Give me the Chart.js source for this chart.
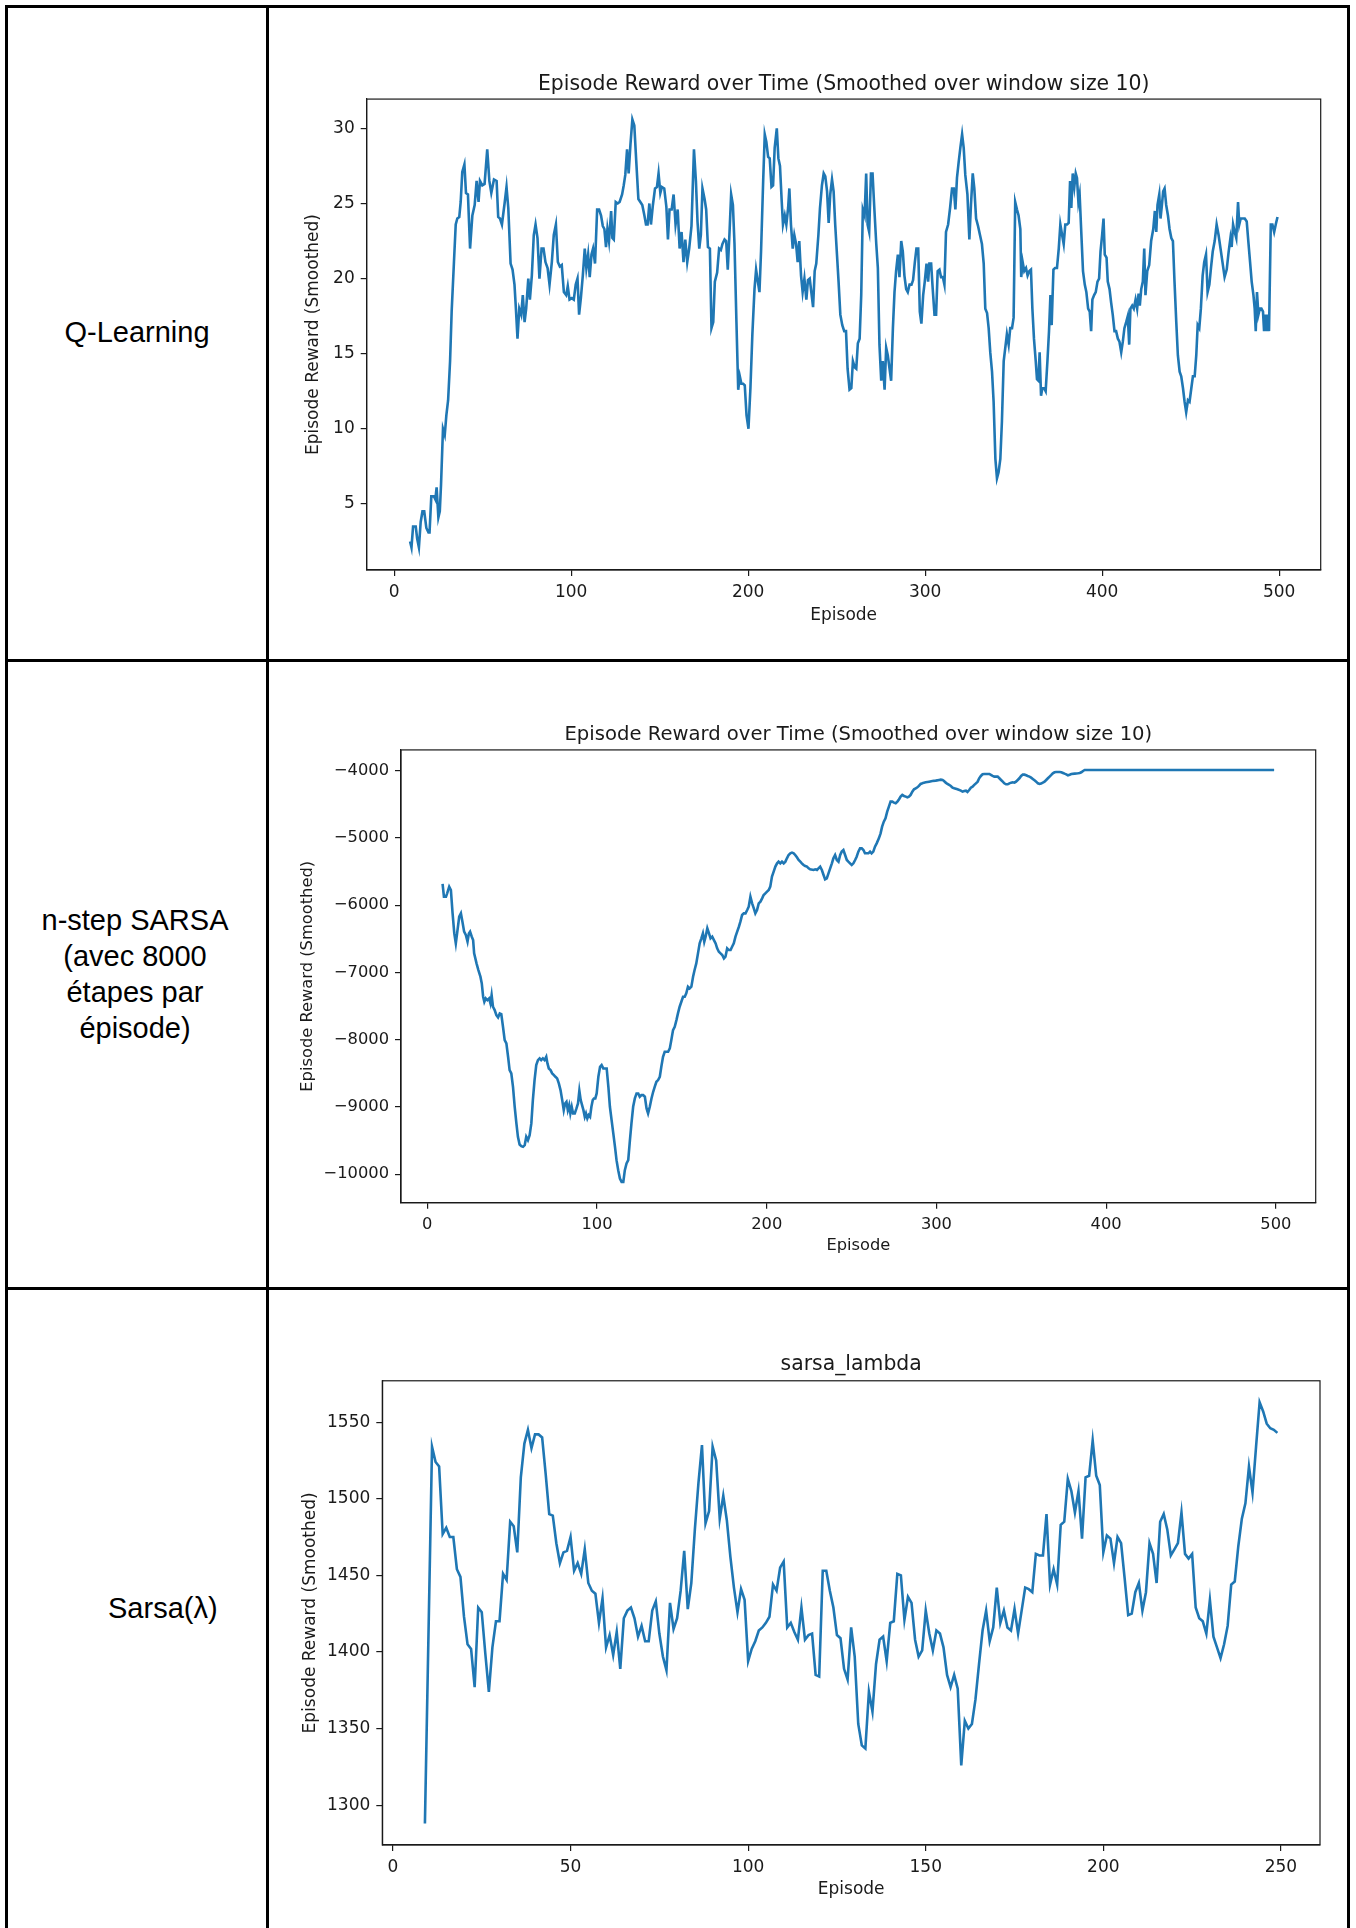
<!DOCTYPE html>
<html>
<head>
<meta charset="utf-8">
<script src="https://cdn.jsdelivr.net/npm/chart.js@4.4.1/dist/chart.umd.min.js"></script>
<style>
  html, body { margin: 0; padding: 0; background: #fff; }
  body { width: 1356px; height: 1928px; position: relative; overflow: hidden; }
  .rule { position: absolute; background: #000; }
  .label { position: absolute; font-family: "Liberation Sans", Arial, sans-serif; font-size: 29px; color: #000; line-height: 36px; text-align: center; }
  canvas { position: absolute; }
</style>
</head>
<body>
<!-- table rules -->
<div class="rule" style="left:5px;top:5px;width:3px;height:1923px"></div>
<div class="rule" style="left:266px;top:5px;width:3px;height:1923px"></div>
<div class="rule" style="left:1347px;top:5px;width:3px;height:1923px"></div>
<div class="rule" style="left:5px;top:5px;width:1345px;height:3px"></div>
<div class="rule" style="left:5px;top:659px;width:1345px;height:3px"></div>
<div class="rule" style="left:5px;top:1287px;width:1345px;height:3px"></div>

<div class="label" style="left:8px;width:258px;top:314px">Q-Learning</div>
<div class="label" style="left:8px;width:254px;top:902px">n-step SARSA<br>(avec 8000<br>étapes par<br>épisode)</div>
<div class="label" style="left:108px;top:1590px;text-align:left">Sarsa(λ)</div>

<canvas id="qChart" width="1076" height="648" style="left:270px;top:9px"></canvas>
<canvas id="nstepChart" width="1076" height="622" style="left:270px;top:663px"></canvas>
<canvas id="lambdaChart" width="1076" height="637" style="left:270px;top:1291px"></canvas>

<script>
// Q-Learning: smoothed episode reward
const qEpisodes = [9,9.8,10.7,12.2,13,14,15,16,17,18.2,19.4,20,21,22.5,23.3,24,25,25.8,26.5,27.6,28.6,29.5,30.5,31.6,32.5,33.8,34.8,35.7,36.8,37.6,38.5,39.7,40.6,41.7,42.9,44.2,45.5,46.6,47.7,48.5,49.8,51.1,52.6,53.8,54.9,56.4,57.9,58.8,59.8,60.9,62.4,63.5,64.5,65.8,66.9,68,68.8,69.7,70.7,71.8,72.7,73.7,74.6,75.8,76.7,77.8,78.9,79.9,81,82.1,83.3,84.4,85.5,86.7,87.8,89.1,90.2,91.4,92.5,93.6,94.7,95.9,97.2,98.1,99.1,100.4,101.5,102.6,103.6,104.5,105.5,106.6,107.7,108.6,109.6,110.5,111.5,112.4,113.5,114.7,115.8,116.9,117.9,118.8,119.7,120.5,121.4,122.6,123.3,124.1,125.2,126.3,127.4,128.8,129.7,130.6,131.6,132.5,133.5,134.6,135.7,136.8,138,139.1,140.2,141.4,142.3,143.2,144.2,145.1,146.2,147.4,148.5,149.4,150.4,151.3,152.6,153.8,154.7,155.6,156.8,157.9,159,160.2,161.3,162.4,163.5,164.5,165.6,166.7,168,169.4,170.5,171.4,172.4,173.3,174.2,175.4,176.3,177.3,178.4,179.3,180.3,181.2,182.5,183.6,184.6,185.5,186.7,187.6,188.5,189.5,190.4,191.4,192.3,193.4,194.4,195.3,196.2,197.2,198.1,199.1,200.2,201.3,202.4,203.6,204.5,205.5,206.4,207.3,208.5,209.4,210.3,211.3,212.2,213.2,214.1,215,216.2,217.1,218,219,219.7,220.7,221.6,222.6,223.3,224.2,225.2,226.1,227.1,228,228.9,229.9,230.8,231.8,232.9,233.8,234.8,235.7,236.7,237.6,238.5,239.7,240.6,241.7,242.7,243.6,244.6,245.5,246.4,247.4,248.3,249.2,250.2,251.1,252.1,253.2,254.3,255.3,256.2,257.3,258.3,259.2,260.2,261.1,262,263,263.9,264.8,265.8,266.7,267.5,268.4,269.4,270.3,271.2,272.4,273.3,274.2,275.2,276.1,277.1,278,278.9,279.9,280.8,281.8,282.7,283.6,284.6,285.5,286.5,287.4,288.3,289.3,290.2,291.2,292.3,293.2,294.2,295.1,296.1,297,297.9,298.9,299.8,300.8,301.7,302.4,303.4,304.3,305.3,306.2,307.1,308.1,309,310,310.9,311.8,313,314.1,315.2,316.2,317.1,318,319,319.9,320.9,321.8,322.7,323.9,325,325.9,326.9,327.8,328.8,329.9,331,332.1,333.1,334,335,335.9,336.8,337.8,338.7,339.7,340.6,341.5,342.5,343.4,344.4,345.3,346.2,347.2,348.1,349.1,350,350.9,351.9,352.8,353.8,354.3,355.1,356,357,357.9,358.9,359.8,360.6,361.5,362.5,363.2,364,364.7,365.5,366.2,367.2,368.1,369.1,370,370.8,371.5,372.5,373.4,374.5,375.5,376.4,377.4,378.3,379.2,380.2,381.1,381.9,382.6,383.4,384.3,385.1,385.8,386.6,387.3,388.3,389.2,390.2,391.1,392.1,393,393.8,394.5,395.5,396.4,397.4,398.3,399.1,400,400.8,401.5,402.5,403.2,404.2,405.1,406,407,407.9,408.9,409.8,410.8,411.7,412.6,413.6,414.5,415.3,416,417,417.9,418.9,419.8,420.6,421.3,422.1,423,423.8,424.5,425.5,426.6,427.7,428.9,429.8,430.6,431.3,432.3,433,433.8,434.5,435.3,436.2,437.2,438.1,439.1,440,440.9,441.9,442.8,443.8,444.7,445.7,446.6,447.5,448.5,449.4,450.4,451.3,452.3,453.2,454,454.9,455.8,456.8,457.7,458.7,459.6,460.6,461.5,462.5,463.6,464.7,465.8,466.9,468,469.2,470.4,471.5,472.5,473.2,474,474.9,475.8,476.8,477.5,478.3,479.4,480.6,481.7,482.6,483.6,484.5,485.5,486.2,486.8,487.5,488.3,489.1,490,490.9,491.5,492.3,493,493.6,494.3,495.3,496.2,497.2,498.1,499.1];
const qRewards = [2.5,2.1,3.5,3.5,2.7,2.1,3.8,4.5,4.5,3.4,3.1,3.1,5.5,5.5,5.3,6.1,4.1,4.5,6.3,10.0,9.6,10.9,11.9,14.5,17.8,21.1,23.6,24.0,24.1,25.1,27.1,27.6,25.7,25.6,22.0,24.2,24.9,26.5,25.1,26.5,26.2,26.3,28.6,26.5,25.7,26.6,26.5,24.1,24.0,23.6,25.0,26.1,24.7,21.0,20.6,19.6,18.0,16.0,18.0,17.6,18.9,17.1,18.0,20.0,18.6,20.2,22.9,23.6,22.7,20.0,22.0,22.0,21.1,20.7,19.6,21.1,22.9,23.6,21.1,20.8,20.9,19.1,18.9,19.5,18.6,18.7,18.6,19.6,20.0,17.6,18.7,20.2,22.0,20.7,21.6,20.1,21.6,22.0,21.0,24.6,24.6,24.2,23.5,23.3,22.1,23.3,22.5,24.5,22.7,22.6,25.1,25.0,25.1,25.6,26.2,26.9,28.6,27.0,28.9,30.6,30.2,27.8,25.3,25.1,24.9,24.2,23.6,23.6,25.0,23.6,24.9,26.0,26.1,27.0,25.7,26.1,26.0,24.8,22.6,24.6,24.6,25.6,23.6,24.6,22.0,23.1,21.1,22.6,21.1,22.0,23.5,28.6,26.5,23.8,22.0,22.9,26.0,25.3,24.6,22.1,22.0,16.7,17.1,19.8,20.4,22.0,21.9,22.3,22.6,22.5,20.6,23.1,25.6,24.9,22.3,17.1,12.6,13.5,13.0,13.0,12.9,10.9,10.0,12.7,16.3,19.3,20.6,19.8,19.1,21.8,26.5,29.6,29.1,28.1,28.0,26.1,26.2,28.7,30.0,28.0,27.5,25.1,23.6,24.2,23.6,24.7,26.0,23.6,22.0,22.9,22.3,21.1,22.5,20.2,19.1,20.0,18.6,19.9,20.0,19.1,18.1,20.5,21.0,22.9,24.7,26.2,27.0,26.8,25.8,23.7,25.6,26.6,25.8,23.6,21.6,19.8,17.6,16.9,16.5,16.5,14.0,12.6,12.7,14.5,14.1,14.0,15.7,16.0,18.9,24.6,24.2,27.0,23.6,23.1,27.0,27.0,24.9,22.3,20.7,15.6,13.2,14.5,12.6,15.4,14.9,14.0,13.2,16.7,19.1,20.5,21.6,20.1,22.5,21.8,20.2,19.3,19.1,19.6,19.6,19.9,21.1,22.0,22.0,17.8,17.0,18.9,19.8,21.0,19.8,21.0,21.0,19.3,17.6,17.6,20.5,20.6,20.1,20.1,19.6,23.1,23.6,24.7,26.0,26.0,24.6,26.7,27.8,28.7,29.6,28.7,26.9,25.6,22.6,24.9,27.0,26.0,24.0,23.5,22.9,22.3,21.0,18.0,17.7,16.7,15.1,13.8,11.8,8.0,6.7,7.1,8.0,10.5,14.5,15.4,16.3,15.6,16.7,16.7,17.4,25.1,24.6,24.2,23.3,20.1,21.1,20.5,20.7,20.2,20.5,20.6,18.0,16.0,14.5,13.3,13.2,15.1,12.2,12.7,12.7,12.5,14.5,16.5,18.9,16.9,20.6,20.7,20.7,22.0,23.6,22.9,22.3,23.6,23.6,23.7,26.5,24.7,27.0,26.1,27.0,26.7,25.1,25.6,22.9,20.5,19.6,19.1,18.0,17.8,16.5,18.6,18.9,19.1,19.8,20.0,21.8,22.9,24.0,21.6,21.4,19.8,19.3,18.4,17.6,16.5,16.5,16.0,15.8,15.1,15.8,16.7,17.1,17.5,15.6,18.0,18.2,18.0,18.6,18.0,19.0,18.2,19.3,19.8,22.0,18.9,20.5,20.9,22.5,23.3,24.5,23.1,24.9,25.6,24.0,24.9,25.8,26.0,24.9,24.2,23.3,22.7,22.5,19.8,17.1,14.9,13.8,13.5,12.7,11.8,11.1,11.9,11.8,12.7,13.5,13.5,14.9,16.9,16.7,18.0,20.2,21.1,21.6,19.1,19.6,20.7,21.8,22.5,23.6,22.9,22.0,21.1,20.1,20.6,21.8,22.7,22.1,23.6,23.1,22.7,25.1,23.6,24.0,24.0,24.0,23.8,22.5,21.1,19.8,18.9,18.0,16.5,19.1,17.6,18.0,18.0,17.8,16.5,17.6,16.5,17.6,16.5,23.6,23.6,23.1,23.6,24.1];

// n-step SARSA (8000 steps per episode)
const nstepEpisodes = [9,9.8,11,11.7,12.9,13.9,14.9,15.9,16.8,17.8,18.8,19.8,20.7,21.7,22.7,23.7,24.5,25.2,26.2,27,27.6,29,30.1,31.3,32.1,32.9,33.6,34.4,35.4,36.4,37.2,37.9,38.7,39.7,40.7,41.7,42.7,43.6,44.6,45.6,46.6,47.6,48.5,49.5,50.5,51.5,52.5,53.4,54.4,55.4,56.4,57.4,58.3,59.3,60.3,61.3,62.2,63.2,64.2,65.2,66.2,67.1,68.1,69.1,70.1,70.8,71.6,72.6,73.6,74.6,75.5,76.5,77.5,78.5,79.5,80.4,81.2,82,82.8,83.6,84.3,85.1,85.9,86.9,87.9,88.8,89.6,90.4,91.2,92,92.8,93.5,94.3,95.1,95.9,96.7,97.5,98.2,99,99.8,100.8,101.8,102.7,103.7,104.7,105.7,106.7,107.6,108.6,109.6,110.6,111.5,112.5,113.5,114.5,115.5,116.4,117.4,118.4,119.4,120.3,121.3,122.3,123.3,124.3,125.2,126.2,127.2,128.2,129.2,130.1,131.1,132.1,133.1,134,135,136,137,137.9,138.9,139.9,141.9,142.9,143.8,144.8,145.8,146.8,147.7,148.7,149.7,150.7,151.7,152.6,153.6,154.6,155.6,156.6,157.5,158.5,159.5,160.5,161.5,162.4,163.2,164,165,166,166.9,167.9,168.9,169.9,170.8,171.8,172.8,173.8,174.8,175.7,176.7,177.7,178.7,179.6,180.6,181.6,182.6,183.6,184.5,185.5,186.5,187.5,188.5,189.4,190.4,191.4,192.4,193.3,194.3,195.3,196.3,197.3,198.2,199.2,200.2,201.2,202.1,203.1,204.1,205.1,206.1,207,208,209,210,211,211.9,212.9,213.9,214.9,215.9,216.8,217.8,218.8,219.8,220.7,221.7,222.7,223.7,224.7,225.6,227.6,228.6,229.6,230.5,231.5,232.5,233.5,234.4,235.4,236.4,237.4,238.4,239.3,240.3,241.3,242.3,243.3,244.2,245.2,246.2,247.2,248.1,249.1,250.1,251.1,252.1,253,254,255,256,257,257.9,258.9,259.9,260.9,261.8,262.8,263.8,264.8,266.1,267.1,268,269,270,271,272,273,274,275,276,277,278,278.9,279.9,280.9,281.9,282.9,283.8,284.8,285.8,286.8,287.8,288.8,289.7,290.7,291.7,292.7,293.7,295.7,297.6,299.6,301.6,302.6,303.6,304.5,305.5,306.5,307.5,308.5,309.5,310.5,312.4,314.4,315.4,316.4,317.4,318.3,319.3,320.3,321.3,322.3,323.3,324.3,325.2,326.2,327.2,328.2,331.2,332.1,333.1,334.1,336.1,337.1,338.1,339.1,340,341,342,343,344,345,346,346.9,347.9,348.9,349.9,350.9,351.9,352.9,353.8,354.8,355.8,356.8,357.8,358.8,359.8,360.8,361.7,362.7,363.7,364.7,365.7,366.7,367.7,368.6,369.6,370.6,372.6,373.6,374.6,375.5,376.5,377.5,378.5,379.5,381.5,383.4,384.4,385.4,386.4,387.4,499];
const nstepRewards = [-5684,-5873,-5873,-5823,-5724,-5774,-6121,-6419,-6568,-6370,-6171,-6121,-6245,-6394,-6443,-6543,-6419,-6394,-6468,-6518,-6716,-6865,-6964,-7063,-7163,-7361,-7436,-7386,-7411,-7386,-7460,-7336,-7510,-7560,-7634,-7669,-7609,-7619,-7808,-8006,-8056,-8254,-8452,-8502,-8701,-8998,-9246,-9445,-9559,-9584,-9594,-9569,-9445,-9495,-9420,-9246,-8899,-8601,-8378,-8304,-8279,-8304,-8279,-8304,-8254,-8353,-8428,-8452,-8502,-8527,-8552,-8576,-8651,-8750,-8899,-9048,-8949,-8924,-9048,-8974,-9097,-8998,-9097,-9097,-9023,-8949,-8760,-8899,-8974,-9048,-9147,-9097,-9172,-9122,-9147,-8998,-8899,-8874,-8874,-8800,-8552,-8403,-8378,-8428,-8428,-8428,-8701,-8998,-9197,-9395,-9594,-9792,-9941,-10065,-10115,-10115,-9941,-9842,-9792,-9495,-9246,-8998,-8874,-8800,-8800,-8849,-8825,-8825,-8849,-9023,-9097,-8998,-8874,-8775,-8701,-8626,-8601,-8552,-8403,-8254,-8180,-8180,-8130,-8006,-7857,-7808,-7709,-7609,-7510,-7436,-7361,-7361,-7311,-7212,-7237,-7212,-7063,-6964,-6865,-6716,-6568,-6493,-6419,-6543,-6468,-6344,-6419,-6493,-6468,-6518,-6568,-6642,-6692,-6716,-6741,-6791,-6766,-6642,-6667,-6667,-6617,-6568,-6468,-6394,-6320,-6245,-6146,-6121,-6121,-6071,-6022,-5873,-5972,-6047,-6121,-6071,-5972,-5947,-5898,-5848,-5823,-5798,-5774,-5724,-5575,-5501,-5426,-5377,-5352,-5377,-5352,-5377,-5352,-5302,-5253,-5228,-5218,-5228,-5253,-5288,-5327,-5352,-5377,-5402,-5416,-5426,-5451,-5466,-5476,-5466,-5476,-5451,-5426,-5476,-5550,-5615,-5600,-5526,-5451,-5377,-5302,-5253,-5327,-5352,-5253,-5203,-5179,-5253,-5327,-5352,-5377,-5402,-5377,-5327,-5278,-5203,-5154,-5154,-5179,-5228,-5228,-5228,-5203,-5228,-5203,-5129,-5080,-5005,-4931,-4831,-4757,-4707,-4608,-4533,-4459,-4459,-4474,-4484,-4459,-4424,-4385,-4360,-4375,-4385,-4395,-4385,-4360,-4311,-4276,-4261,-4246,-4226,-4196,-4187,-4177,-4172,-4162,-4152,-4147,-4137,-4132,-4137,-4152,-4177,-4196,-4211,-4226,-4251,-4261,-4276,-4296,-4311,-4301,-4296,-4316,-4286,-4251,-4236,-4211,-4187,-4162,-4112,-4077,-4053,-4048,-4048,-4062,-4077,-4087,-4087,-4112,-4137,-4162,-4187,-4201,-4201,-4187,-4177,-4172,-4177,-4162,-4137,-4112,-4077,-4058,-4058,-4067,-4077,-4087,-4102,-4122,-4142,-4162,-4187,-4196,-4191,-4177,-4162,-4137,-4112,-4087,-4062,-4038,-4023,-4018,-4018,-4023,-4033,-4043,-4053,-4067,-4058,-4048,-4043,-4038,-4033,-4023,-4003,-3988,-3988];

// Sarsa(lambda)
const lambdaEpisodes = [9,11,12,13,14,15,16,17,18,19,20,21,22,23,24,25,26,27,28,29,30,31,32,33,34,35,36,37,38,39,40,41,42,43,44,45,46,47,48,49,50,51,52,53,54,55,56,57,58,59,60,61,62,63,64,65,66,67,68,69,70,71,72,73,74,75,76,77,78,79,80,81,82,83,84,85,86,87,88,89,90,91,92,93,94,95,96,97,98,99,100,101,102,103,104,105,106,107,108,109,110,111,112,113,114,115,116,117,118,119,120,121,122,123,124,125,126,127,128,129,130,131,132,133,134,135,136,137,138,139,140,141,142,143,144,145,146,147,148,149,150,151,152,153,154,155,156,157,158,159,160,161,162,163,164,165,166,167,168,169,170,171,172,173,174,175,176,177,178,179,180,181,182,183,184,185,186,187,188,189,190,191,192,193,194,195,196,197,198,199,200,201,202,203,204,205,206,207,208,209,210,211,212,213,214,215,216,217,218,219,220,221,222,223,224,225,226,227,228,229,230,231,232,233,234,235,236,237,238,239,240,241,242,243,244,245,246,247,248,249];
const lambdaRewards = [1288,1534,1524,1521,1477,1481,1475,1475,1454,1449,1423,1405,1402,1377,1429,1426,1399,1374,1403,1420,1420,1451,1447,1485,1482,1465,1514,1536,1545,1533,1542,1542,1540,1516,1490,1489,1471,1458,1465,1466,1475,1453,1458,1451,1467,1445,1440,1438,1419,1435,1403,1411,1398,1413,1389,1422,1427,1429,1422,1410,1417,1407,1407,1427,1433,1412,1397,1388,1432,1415,1422,1440,1466,1428,1445,1480,1510,1535,1484,1492,1534,1525,1487,1502,1486,1462,1442,1426,1441,1434,1394,1402,1407,1414,1416,1419,1423,1444,1440,1455,1459,1416,1419,1413,1408,1429,1408,1411,1412,1385,1384,1453,1453,1440,1429,1411,1409,1389,1382,1416,1397,1353,1339,1337,1374,1361,1392,1408,1410,1394,1419,1420,1451,1450,1421,1436,1432,1408,1397,1401,1427,1412,1401,1414,1412,1403,1385,1377,1385,1376,1326,1355,1350,1353,1369,1392,1414,1427,1407,1416,1442,1419,1427,1416,1414,1428,1412,1427,1442,1441,1439,1464,1463,1463,1490,1444,1454,1444,1483,1485,1513,1505,1491,1505,1474,1514,1515,1538,1515,1509,1465,1476,1474,1458,1475,1471,1448,1424,1425,1439,1445,1427,1439,1471,1464,1445,1485,1490,1480,1463,1467,1471,1491,1464,1461,1464,1429,1422,1420,1412,1434,1410,1403,1396,1405,1417,1444,1446,1469,1487,1497,1521,1504,1534,1563,1557,1549,1546,1545,1543];

const episodeTicks500 = [0, 100, 200, 300, 400, 500];
const episodeTicks250 = [0, 50, 100, 150, 200, 250];
const qTicks = [5, 10, 15, 20, 25, 30];
const nstepTicks = [-10000, -9000, -8000, -7000, -6000, -5000, -4000];
const lambdaTicks = [1300, 1350, 1400, 1450, 1500, 1550];

const FONT = '"DejaVu Sans", sans-serif';
const INK = '#1a1a1a';
const LINE = '#1f77b4';

// matplotlib-like box around the axes
const frame = {
  id: 'frame',
  afterDatasetsDraw(chart) {
    const { ctx, chartArea: a } = chart;
    ctx.save();
    ctx.strokeStyle = INK;
    ctx.lineWidth = 1.2;
    ctx.strokeRect(a.left, a.top, a.right - a.left, a.bottom - a.top);
    ctx.restore();
  }
};

const minus = v => (v < 0 ? '\u2212' + Math.abs(v) : String(v));

function lineChart(id, o) {
  const axisStyle = {
    grid: { drawOnChartArea: false, drawTicks: true, tickLength: 6, color: INK, lineWidth: 1.2 },
    border: { display: true, color: INK, width: 1.2 },
  };
  return new Chart(document.getElementById(id), {
    type: 'line',
    data: {
      datasets: [{
        data: o.xs.map((x, i) => ({ x, y: o.ys[i] })),
        borderColor: LINE,
        borderWidth: 2.6,
        pointRadius: 0,
        tension: 0,
        fill: false
      }]
    },
    options: {
      responsive: false,
      animation: false,
      devicePixelRatio: 1,
      layout: { padding: { left: 0, top: 0, right: o.padRight, bottom: o.padBottom } },
      plugins: {
        legend: { display: false },
        tooltip: { enabled: false },
        title: {
          display: true,
          text: o.title,
          fullSize: false,
          color: INK,
          font: { family: FONT, size: o.titleSize, weight: 'normal', lineHeight: 1.2 },
          padding: { top: o.titleTop, bottom: o.titleBottom }
        }
      },
      scales: {
        x: {
          type: 'linear',
          min: o.xMin,
          max: o.xMax,
          ...axisStyle,
          afterFit: s => { s.height = o.xHeight; },
          afterBuildTicks: s => { s.ticks = o.xTicks.map(v => ({ value: v })); },
          ticks: { autoSkip: false, maxRotation: 0, padding: 6, color: INK, font: { family: FONT, size: o.tickSize } },
          title: { display: true, text: 'Episode', color: INK, font: { family: FONT, size: o.tickSize, lineHeight: 1.2 }, padding: { top: 0, bottom: 0 } }
        },
        y: {
          type: 'linear',
          min: o.yMin,
          max: o.yMax,
          ...axisStyle,
          afterFit: s => { s.width = o.yWidth; },
          afterBuildTicks: s => { s.ticks = o.yTicks.map(v => ({ value: v })); },
          ticks: { autoSkip: false, padding: 6, color: INK, font: { family: FONT, size: o.tickSize }, callback: o.fmt || (v => String(v)) },
          title: { display: true, text: 'Episode Reward (Smoothed)', color: INK, font: { family: FONT, size: o.tickSize, lineHeight: 1.2 }, padding: { top: o.yTitlePad, bottom: 0 } }
        }
      }
    },
    plugins: [frame]
  });
}

lineChart('qChart', {
  xs: qEpisodes, ys: qRewards,
  title: 'Episode Reward over Time (Smoothed over window size 10)',
  xMin: -15.5, xMax: 523.5, yMin: 0.6, yMax: 31.95,
  xTicks: episodeTicks500, yTicks: qTicks,
  titleSize: 20.4, tickSize: 17,
  titleTop: 63, titleBottom: 2.6,
  yWidth: 96.7, yTitlePad: 33.8,
  xHeight: 56, padBottom: 31, padRight: 25.3
});

lineChart('nstepChart', {
  xs: nstepEpisodes, ys: nstepRewards,
  title: 'Episode Reward over Time (Smoothed over window size 10)',
  xMin: -15.5, xMax: 523.5, yMin: -10425, yMax: -3690,
  xTicks: episodeTicks500, yTicks: nstepTicks, fmt: minus,
  titleSize: 19.6, tickSize: 16.3,
  titleTop: 60.4, titleBottom: 3,
  yWidth: 131, yTitlePad: 27.6,
  xHeight: 52.6, padBottom: 29.7, padRight: 30.3
});

lineChart('lambdaChart', {
  xs: lambdaEpisodes, ys: lambdaRewards,
  title: 'sarsa_lambda',
  xMin: -3, xMax: 261, yMin: 1274, yMax: 1577,
  xTicks: episodeTicks250, yTicks: lambdaTicks,
  titleSize: 20.4, tickSize: 17,
  titleTop: 61.5, titleBottom: 3.8,
  yWidth: 112.3, yTitlePad: 30.8,
  xHeight: 54.5, padBottom: 28.5, padRight: 26
});
</script>
</body>
</html>
